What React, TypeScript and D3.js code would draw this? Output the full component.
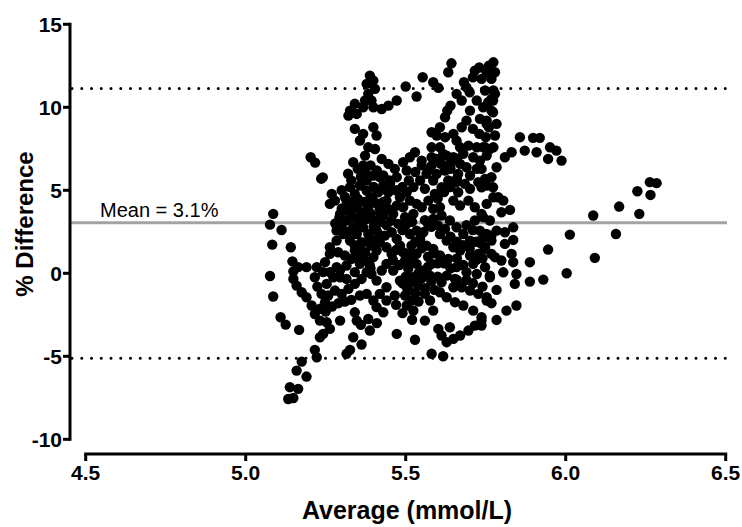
import React from "react";
import * as d3 from "d3";

// Bland-Altman data: [average (mmol/L), % difference]
const POINTS: [number, number][] = [
  [5.086,3.58],[5.076,2.93],[5.112,2.61],[5.083,1.73],[5.141,1.57],[5.146,0.72],[5.076,-0.16],[5.086,-1.40],
  [5.109,-2.65],[5.125,-3.09],[5.167,-3.41],[5.203,6.99],[5.217,6.67],[5.241,5.78],[5.236,5.70],[5.269,4.78],
  [5.279,4.38],[5.263,4.18],[5.293,3.37],[5.295,2.67],
  [5.643,12.65],[5.633,12.11],[5.553,11.81],[5.586,11.51],[5.602,11.17],[5.500,11.25],[5.534,10.65],[5.472,10.41],
  [5.446,10.10],[5.425,9.90],[5.716,12.21],[5.753,12.11],[5.737,11.71],[5.682,11.51],[5.659,10.81],[5.675,10.41],
  [5.701,9.80],[5.722,10.41],[5.758,10.31],[5.748,11.01],[5.732,9.30],[5.753,9.00],
  [5.388,11.91],[5.399,11.61],[5.378,11.41],[5.404,11.11],[5.383,10.81],[5.393,10.41],[5.373,10.41],[5.399,10.00],
  [5.367,10.00],[5.341,10.21],[5.326,9.80],[5.347,9.60],[5.321,9.50],
  [5.341,8.70],[5.367,8.40],[5.399,8.80],[5.409,8.30],[5.357,8.00],[5.383,7.59],[5.404,7.49],[5.373,7.09],
  [5.336,6.69],[5.367,6.49],[5.373,6.09],[5.399,5.89],[5.425,6.89],[5.446,6.59],[5.466,6.29],[5.492,6.69],
  [5.513,6.99],[5.529,7.29],[5.503,6.19],[5.472,5.79],[5.451,5.43],[5.430,5.29],[5.446,4.88],[5.414,4.88],
  [5.399,4.38],[5.378,4.98],[5.357,5.29],[5.341,4.78],[5.331,4.28],[5.347,3.98],[5.362,3.68],[5.383,3.98],
  [5.419,3.88],
  [5.623,9.40],[5.607,8.80],[5.597,8.30],[5.623,8.20],[5.649,8.40],[5.675,8.80],[5.659,7.99],[5.607,7.59],
  [5.628,7.09],[5.670,7.59],[5.696,7.69],[5.722,7.59],[5.748,7.59],[5.774,7.59],[5.649,6.99],[5.581,6.99],
  [5.550,6.79],[5.581,6.49],[5.565,5.99],[5.545,5.59],[5.560,5.09],[5.524,5.19],[5.503,4.88],[5.482,4.58],
  [5.472,4.08],[5.446,3.88],[5.430,3.48],[5.456,3.18],[5.477,2.98],[5.498,3.38],[5.524,3.58],[5.550,3.98],
  [5.571,4.38],[5.591,4.78],[5.612,5.18],[5.633,5.59],[5.623,6.19],[5.638,6.59],[5.711,6.99],[5.732,6.79],
  [5.753,7.09],[5.722,6.29],[5.701,5.89],[5.685,5.39],[5.664,4.88],[5.649,4.38],[5.670,4.08],[5.696,4.38],
  [5.716,3.98],[5.737,3.58],[5.763,3.18],[5.784,2.57],[5.768,1.97],[5.748,1.57],[5.727,1.17],[5.701,1.07],
  [5.701,1.97],[5.680,2.37],[5.659,2.77],[5.638,3.18],[5.612,3.48],[5.586,3.28],[5.571,2.88],[5.555,2.47],
  [5.545,2.07],[5.565,1.67],[5.586,1.47],[5.607,1.07],[5.633,0.87],[5.659,0.37],[5.654,-0.34],[5.628,-0.14],
  [5.612,-0.54],[5.607,-1.14],[5.628,-1.44],[5.654,-1.74],[5.680,-1.94],[5.711,-2.25],[5.737,-2.65],[5.716,-3.15],
  [5.696,-3.45],[5.670,-3.75],[5.649,-3.95],[5.628,-4.15],[5.612,-3.75],[5.602,-3.35],[5.638,-3.25],[5.560,-2.85],
  [5.581,-4.85],[5.617,-5.00],[5.529,-4.00],[5.472,-3.65],[5.586,-2.25],[5.576,-1.64],[5.560,-1.24],[5.539,-0.74],
  [5.524,-0.24],[5.508,0.27],[5.498,0.77],[5.492,1.27],[5.482,1.67],[5.472,2.07],[5.456,2.47],[5.435,2.27],
  [5.419,1.87],[5.409,1.37],[5.399,0.97],[5.388,0.47],[5.378,0.07],[5.362,-0.34],[5.341,-0.64],[5.321,-0.94],
  [5.300,-1.24],[5.279,-1.04],[5.258,-1.34],[5.248,-1.74],[5.232,-2.14],[5.216,-2.45],[5.206,-1.94],[5.190,-1.44],
  [5.175,-1.14],[5.159,-0.74],[5.149,-0.34],[5.149,0.12],[5.164,0.37],[5.190,0.37],[5.216,-0.24],[5.224,-0.80],
  [5.237,-1.24],[5.253,-0.64],[5.274,-0.24],[5.295,0.20],[5.315,0.47],[5.331,0.87],[5.310,1.07],[5.289,1.27],
  [5.263,1.17],[5.248,0.67],[5.232,-2.85],[5.253,-2.95],[5.263,-3.35],[5.242,-3.65],[5.232,-3.85],[5.216,-4.61],
  [5.222,-5.06],[5.175,-5.32],[5.159,-5.86],[5.190,-6.22],[5.138,-6.86],[5.164,-6.96],[5.133,-7.57],[5.149,-7.51],
  [5.315,-4.85],[5.326,-4.61],[5.362,-4.29],[5.336,-3.85],[5.347,-2.85],[5.341,-2.35],[5.388,-3.45],[5.383,-2.75],
  [5.295,-2.85],[5.409,-2.04],[5.430,-2.35],[5.440,-1.64],[5.466,-1.34],[5.440,-0.84],[5.419,-1.24],[5.399,-1.64],
  [5.378,-1.24],[5.357,-1.34],
  [5.315,4.38],[5.295,3.58],[5.315,3.18],[5.336,2.77],[5.305,2.37],[5.284,1.97],[5.326,1.97],[5.347,2.37],
  [5.367,2.77],[5.383,2.37],[5.362,1.87],[5.341,1.37],[5.373,1.27],[5.393,1.67],[5.409,2.57],[5.399,3.18],
  [5.419,3.08],[5.378,3.28],[5.440,1.57],[5.456,1.17],[5.440,0.57],[5.461,0.17],[5.425,0.17],[5.409,-0.44],
  [5.393,-0.04],[5.482,-0.44],[5.503,-0.84],[5.498,-1.34],[5.518,-1.64],[5.524,-2.25],[5.503,-1.94],[5.534,0.57],
  [5.555,0.17],[5.576,-0.14],[5.581,0.57],[5.534,1.17],[5.518,1.67],[5.513,2.37],[5.534,2.57],[5.607,2.37],
  [5.628,1.97],[5.649,1.57],[5.623,2.67],[5.670,1.37],[5.649,-0.84],[5.675,-0.84],[5.701,-1.04],[5.727,-1.24],
  [5.753,-1.44],[5.763,-0.14],[5.748,0.37],[5.722,-0.04],[5.690,0.07],[5.711,0.57],[5.779,0.97],[5.701,5.09],
  [5.727,5.49],[5.753,5.29],[5.774,4.58],[5.753,4.18],[5.716,3.18],[5.732,2.57],[5.753,2.37],[5.607,3.98],
  [5.586,3.88],[5.461,3.58],[5.513,4.38],[5.534,4.18],[5.492,3.98],[5.440,4.38],[5.419,5.79],[5.378,5.59],
  [5.326,5.19],[5.315,3.78],[5.331,3.38],[5.284,2.57],[5.263,1.57],[5.284,0.37],[5.263,0.07],[5.222,0.37],
  [5.242,0.07],[5.295,-0.24],[5.315,-0.34],[5.341,0.07],[5.357,0.57],[5.586,5.59],[5.597,5.99],[5.597,6.89],
  [5.617,7.19],[5.581,7.59],[5.670,6.59],[5.690,6.39],[5.664,5.99],[5.659,5.49],[5.581,8.50],
  [5.774,12.71],[5.779,12.11],[5.768,11.71],[5.774,11.01],[5.768,10.51],[5.742,10.00],[5.768,9.80],[5.753,9.20],
  [5.742,7.59],[5.737,6.29],[5.748,5.69],[5.737,5.18],[5.742,3.38],[5.737,1.77],[5.748,1.47],[5.763,-0.24],
  [5.753,-1.64],[5.737,-2.85],[5.737,-3.15],
  [5.779,10.81],[5.773,10.41],[5.773,9.70],[5.784,9.00],[5.779,8.30],[5.763,7.49],[5.810,6.99],[5.831,7.29],
  [5.857,8.20],[5.872,7.39],[5.898,8.16],[5.919,8.16],[5.909,7.29],[5.951,7.59],[5.971,7.39],[5.945,6.89],
  [5.987,6.79],[5.784,6.39],[5.768,5.79],[5.773,5.18],[5.789,4.58],[5.805,4.38],[5.799,3.68],[5.826,3.82],
  [5.836,2.77],[5.768,2.27],[5.810,2.47],[5.836,2.01],[5.810,1.77],[6.013,2.33],[5.945,1.43],[5.768,1.17],
  [5.799,0.77],[5.831,1.17],[5.836,0.67],[5.888,0.67],[5.805,0.06],[5.846,-0.04],[5.841,-0.64],[5.888,-0.50],
  [5.930,-0.38],[6.003,0.00],[5.784,-1.00],[5.768,-1.80],[5.815,-2.25],[5.846,-1.94],[5.784,-2.81],
  [6.086,3.48],[6.167,4.02],[6.157,2.37],[6.091,0.93],[6.230,3.58],[6.224,4.94],[6.265,4.72],[6.263,5.49],
  [6.284,5.43],
  // dense core
  [5.30,5.0],[5.31,4.6],[5.32,4.0],[5.30,3.9],[5.33,3.6],[5.35,3.3],[5.36,2.9],[5.35,4.5],[5.37,4.3],[5.39,4.6],
  [5.40,5.2],[5.41,4.2],[5.42,3.6],[5.43,4.3],[5.44,5.0],[5.39,3.6],[5.40,2.8],[5.42,2.3],[5.44,2.9],[5.36,5.8],
  [5.35,6.3],[5.33,5.6],[5.32,6.0],[5.39,6.5],[5.41,6.2],[5.43,5.9],[5.45,5.6],[5.28,3.0],[5.30,2.9],[5.32,2.5],
  [5.34,1.7],[5.36,1.4],[5.38,1.9],[5.40,2.0],[5.35,0.9],[5.37,0.8],[5.39,0.3],
  [5.46,0.8],[5.47,1.4],[5.48,0.5],[5.50,-0.2],[5.49,-0.6],[5.51,-1.0],[5.52,-0.5],[5.53,-1.2],[5.54,-1.7],
  [5.55,-0.3],[5.56,-0.9],[5.57,0.4],[5.58,-0.5],[5.59,-1.0],[5.60,-0.2],[5.60,0.6],[5.59,1.2],[5.57,1.0],
  [5.55,1.5],[5.53,1.9],[5.51,1.2],[5.52,0.8],[5.54,0.0],[5.50,2.9],[5.52,3.1],[5.49,2.6],[5.56,3.2],[5.58,2.8],
  [5.60,2.9],[5.47,-1.9],[5.49,-2.4],[5.52,-2.8],
  [5.60,4.5],[5.62,4.9],[5.64,5.2],[5.66,5.7],[5.61,6.6],[5.64,6.3],[5.66,6.9],[5.68,7.2],[5.57,6.2],[5.55,6.5],
  [5.53,6.1],[5.51,5.6],[5.49,5.2],[5.47,5.0],
  [5.64,2.2],[5.66,1.9],[5.68,1.7],[5.70,1.5],[5.72,1.9],[5.74,2.1],[5.71,2.6],[5.69,2.9],[5.72,0.8],[5.74,0.9],
  [5.68,0.5],[5.66,0.9],[5.64,0.3],[5.62,0.6],[5.66,-0.4],[5.69,-0.4],[5.71,-0.6],[5.74,-0.8],
  [5.69,9.2],[5.71,8.7],[5.73,8.4],[5.75,8.2],[5.76,8.8],[5.70,10.9],[5.69,11.2],[5.71,11.8],[5.73,12.4],
  [5.76,12.5],[5.64,10.1],[5.63,9.8],
  [5.27,-2.0],[5.29,-1.8],[5.25,-2.3],[5.31,-1.7],[5.33,-1.6],[5.36,-3.1],[5.41,-3.0],
];

const X_TICKS = [4.5, 5.0, 5.5, 6.0, 6.5];
const Y_TICKS = [-10, -5, 0, 5, 10, 15];
const MEAN_BIAS = 3.05;
const MEAN_LABEL = "Mean = 3.1%";
const UPPER_LOA = 11.14;
const LOWER_LOA = -5.12;
const X_TITLE = "Average (mmol/L)";
const Y_TITLE = "% Difference";

const FONT = "'Liberation Sans', Arial, Helvetica, sans-serif";

export default function App() {
  const W = 742;
  const H = 527;
  const x = d3.scaleLinear().domain([4.5, 6.5]).range([85.7, 725.7]);
  const y = d3.scaleLinear().domain([-10, 15]).range([439.3, 24.3]);
  const yAxisX = 70;
  const xAxisY = 454;
  const lineX0 = 72;
  const lineX1 = 727;
  const fmt = d3.format(".1f");

  return (
    <svg width={W} height={H} style={{ position: "absolute", left: 0, top: 0, background: "#fff" }}>
      <rect width={W} height={H} fill="#fff" />
      {/* reference lines */}
      <line x1={lineX0} x2={lineX1} y1={y(UPPER_LOA)} y2={y(UPPER_LOA)} stroke="#000" strokeWidth={3} strokeLinecap="round" strokeDasharray="0 9.75" />
      <line x1={lineX0} x2={lineX1} y1={y(LOWER_LOA)} y2={y(LOWER_LOA)} stroke="#000" strokeWidth={3} strokeLinecap="round" strokeDasharray="0 9.75" />
      <line x1={yAxisX} x2={lineX1} y1={y(MEAN_BIAS)} y2={y(MEAN_BIAS)} stroke="#a3a3a3" strokeWidth={3} />
      <text x={100} y={y(MEAN_BIAS) - 6} fontFamily={FONT} fontSize={20} fill="#000">{MEAN_LABEL}</text>

      {/* points */}
      <g fill="#000">
        {POINTS.map((p, i) => (
          <circle key={i} cx={x(p[0])} cy={y(p[1])} r={5.2} />
        ))}
      </g>

      {/* y axis */}
      <line x1={yAxisX} x2={yAxisX} y1={y(15) - 1.5} y2={y(-10) + 1.5} stroke="#000" strokeWidth={3} />
      {Y_TICKS.map((t) => (
        <g key={t}>
          <line x1={yAxisX - 7} x2={yAxisX} y1={y(t)} y2={y(t)} stroke="#000" strokeWidth={3} />
          <text x={yAxisX - 8} y={y(t) + 7.5} textAnchor="end" fontFamily={FONT} fontWeight="bold" fontSize={21} fill="#000">{t}</text>
        </g>
      ))}

      {/* x axis */}
      <line x1={x(4.5) - 1.5} x2={x(6.5) + 1.5} y1={xAxisY} y2={xAxisY} stroke="#000" strokeWidth={3} />
      {X_TICKS.map((t) => (
        <g key={t}>
          <line x1={x(t)} x2={x(t)} y1={xAxisY} y2={xAxisY + 7} stroke="#000" strokeWidth={3} />
          <text x={x(t)} y={480} textAnchor="middle" fontFamily={FONT} fontWeight="bold" fontSize={21} fill="#000">{fmt(t)}</text>
        </g>
      ))}

      {/* titles */}
      <text x={407} y={519} textAnchor="middle" fontFamily={FONT} fontWeight="bold" fontSize={25} fill="#000">{X_TITLE}</text>
      <text transform={`translate(33,224) rotate(-90)`} textAnchor="middle" fontFamily={FONT} fontWeight="bold" fontSize={24} fill="#000">{Y_TITLE}</text>
    </svg>
  );
}
